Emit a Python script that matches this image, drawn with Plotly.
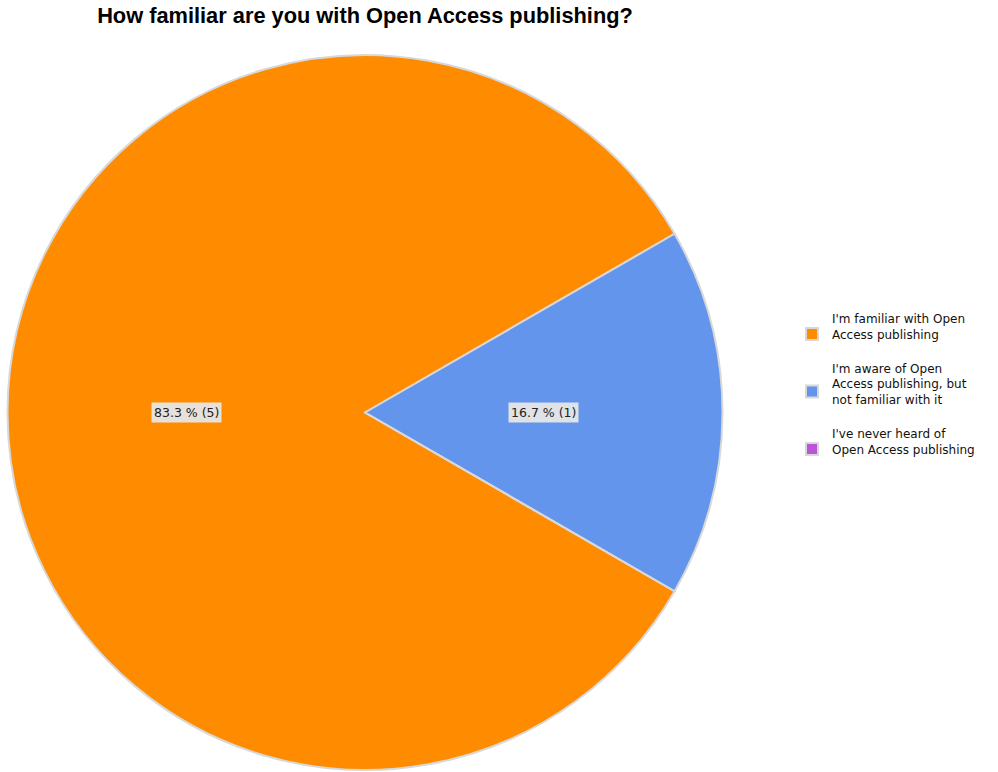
import math
import plotly.graph_objects as go

title = "How familiar are you with Open Access publishing?"
categories = [
    "I'm familiar with Open<br>Access publishing",
    "I'm aware of Open<br>Access publishing, but<br>not familiar with it",
    "I've never heard of<br>Open Access publishing",
]
counts = [5, 1, 0]
colors = ["#FF8C00", "#6495ED", "#BA55D3"]

W, H = 998, 772
# pie placement (pixels)
px0, px1 = 7, 723
py0, py1 = 55, 770
rotation = 120

# trailing blank line gives the legend entries more vertical separation
legend_labels = [c + "<br>&nbsp;" for c in categories]

fig = go.Figure()
fig.add_trace(go.Pie(
    labels=legend_labels,
    values=counts,
    sort=False,
    direction="clockwise",
    rotation=rotation,
    marker=dict(colors=colors, line=dict(color="#D8D8D8", width=2)),
    textinfo="none",
    hoverinfo="value+percent",
    domain=dict(x=[px0 / W, px1 / W], y=[1 - py1 / H, 1 - py0 / H]),
    showlegend=True,
))

# value labels at half radius along each slice's mid-angle
total = sum(counts)
cx = (px0 + px1) / 2 / W
cy = 1 - (py0 + py1) / 2 / H
r_px = min(px1 - px0, py1 - py0) / 2
cum = 0
for v in counts:
    if v > 0:
        theta = math.radians(rotation + (cum + v / 2) / total * 360)
        ax = cx + 0.5 * r_px * math.sin(theta) / W
        ay = cy + 0.5 * r_px * math.cos(theta) / H
        fig.add_annotation(
            x=ax, y=ay, xref="paper", yref="paper",
            xanchor="center", yanchor="middle",
            text=f"{v / total * 100:.1f} % ({v})",
            showarrow=False,
            font=dict(family="DejaVu Sans", size=12.5, color="#222"),
            bgcolor="rgba(230,230,230,0.95)",
            borderpad=2,
        )
    cum += v

fig.update_layout(
    width=W, height=H,
    margin=dict(l=0, r=0, t=0, b=0),
    paper_bgcolor="white",
    plot_bgcolor="white",
    title=dict(
        text="<b>" + title + "</b>",
        x=365 / W, xanchor="center",
        y=1 - 15 / H, yanchor="middle",
        font=dict(family="Liberation Sans, Arial", size=21.8, color="#000"),
    ),
    legend=dict(
        x=792 / W, xanchor="left",
        y=1 - 392 / H, yanchor="middle",
        font=dict(family="DejaVu Sans", size=12, color="#111"),
        itemsizing="constant",
    ),
)

fig.write_html("out.html", config={"displayModeBar": False},
               post_script="document.body.style.margin='0';")
